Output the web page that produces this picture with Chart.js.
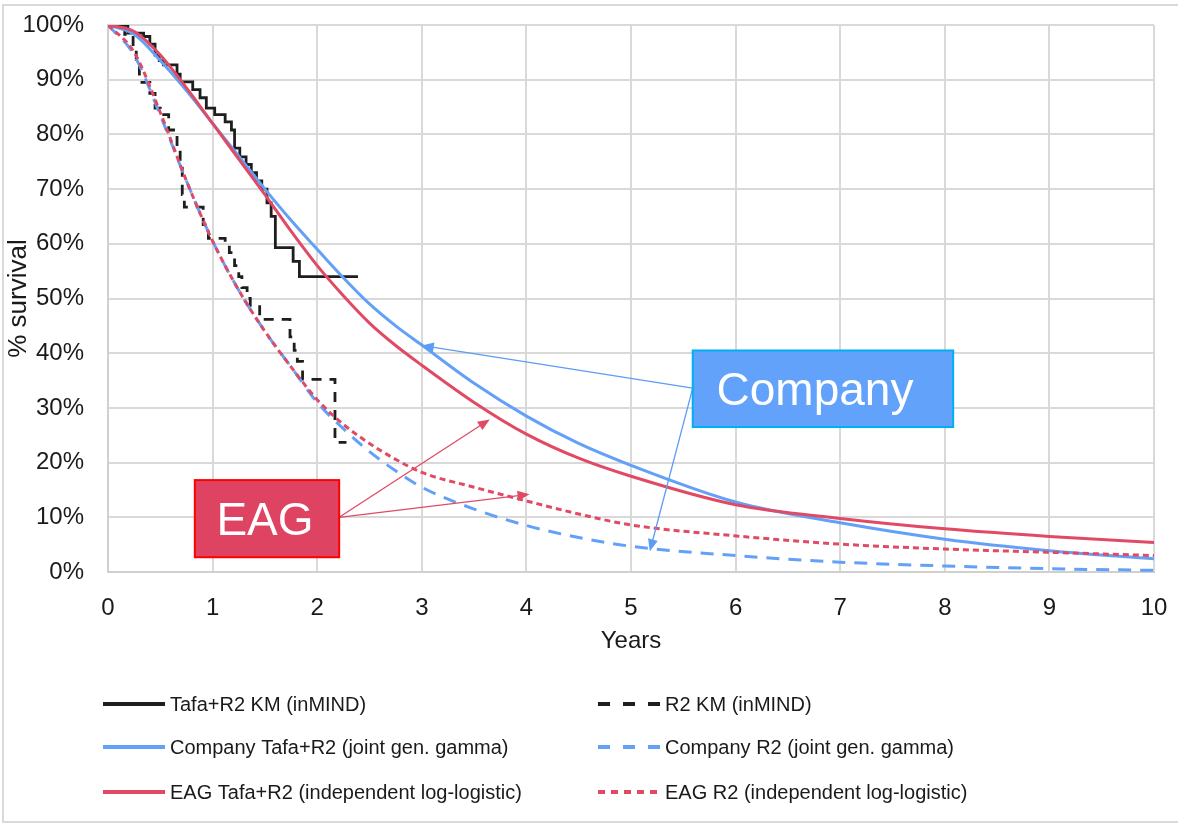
<!DOCTYPE html>
<html>
<head>
<meta charset="utf-8">
<script src="https://cdn.jsdelivr.net/npm/chart.js@4/dist/chart.umd.min.js"></script>
<style>
  html, body { margin: 0; padding: 0; background: #fff; }
</style>
</head>
<body>
<canvas id="survival" width="1178" height="829"></canvas>
<script>
// Kaplan-Meier steps (years, % surviving)
const kmTafaTimes = [0, 0.19, 0.34, 0.40, 0.45, 0.49, 0.53, 0.66, 0.69, 0.81, 0.88, 0.94, 1.02, 1.12, 1.18, 1.21, 1.26, 1.32, 1.37, 1.42, 1.47, 1.52, 1.56, 1.60, 1.77, 1.83, 2.39];
const kmTafaSurv  = [100, 98.5, 97.9, 96.5, 94.5, 93.5, 92.7, 91.0, 89.6, 88.2, 86.7, 84.8, 83.6, 82.3, 80.8, 77.5, 75.9, 74.5, 73.0, 71.5, 70.0, 67.5, 65.0, 59.3, 56.8, 54.0, 54.0];

const kmR2Times = [0, 0.16, 0.24, 0.27, 0.30, 0.40, 0.45, 0.50, 0.58, 0.66, 0.69, 0.71, 0.73, 0.91, 0.96, 1.12, 1.16, 1.21, 1.25, 1.28, 1.33, 1.36, 1.45, 1.74, 1.78, 1.81, 1.86, 2.17, 2.28];
const kmR2Surv  = [100, 98.3, 95.8, 93.0, 89.5, 87.5, 84.8, 83.6, 80.8, 77.7, 74.5, 69.0, 66.7, 63.5, 61.0, 60.0, 58.4, 56.0, 54.0, 52.0, 50.0, 48.5, 46.2, 43.0, 40.5, 38.5, 35.2, 23.7, 23.7];

// Fitted curves, read at fixed years
const years = [0, 0.25, 0.5, 0.75, 1, 1.25, 1.5, 1.75, 2, 2.25, 2.5, 2.75, 3, 3.5, 4, 4.5, 5, 6, 7, 8, 9, 10];
const companyTafa = [100, 98.3, 93.5, 88.0, 82.0, 76.0, 70.0, 64.3, 59.0, 53.8, 49.0, 45.0, 41.5, 34.5, 28.5, 23.5, 19.5, 12.8, 9.0, 6.0, 3.9, 2.4];
const companyR2   = [100, 94.5, 83.5, 71.5, 60.5, 51.5, 44.0, 37.5, 31.0, 26.2, 22.0, 18.5, 15.5, 11.5, 8.5, 6.3, 4.7, 3.0, 1.8, 1.1, 0.6, 0.3];
const eagTafa     = [100, 98.8, 94.5, 88.5, 82.0, 75.5, 69.0, 62.3, 56.0, 50.5, 45.5, 41.4, 37.8, 31.0, 25.2, 20.8, 17.5, 12.3, 9.8, 7.9, 6.5, 5.4];
const eagR2       = [100, 95.0, 84.0, 71.5, 60.5, 51.5, 44.0, 37.5, 31.5, 27.0, 23.5, 20.6, 18.2, 15.5, 13.0, 10.6, 8.6, 6.6, 5.1, 4.2, 3.6, 3.0];

const seriesNames = [
  'Tafa+R2 KM (inMIND)',
  'R2 KM (inMIND)',
  'Company Tafa+R2 (joint gen. gamma)',
  'Company R2 (joint gen. gamma)',
  'EAG Tafa+R2 (independent log-logistic)',
  'EAG R2 (independent log-logistic)'
];

const BLACK = '#1e1e1e';
const BLUE = '#62a1f7';
const RED = '#e04a64';
const FONT = '"Liberation Sans", Arial, sans-serif';

const pts = (xs, ys) => xs.map((x, i) => ({ x: x, y: ys[i] }));

function curve(label, data, color, dash, legendDash, order) {
  return {
    label: label,
    data: data,
    borderColor: color,
    backgroundColor: color,
    borderWidth: 3,
    borderDash: dash,
    legendDash: legendDash,
    pointRadius: 0,
    fill: false,
    cubicInterpolationMode: 'monotone',
    order: order
  };
}

const datasets = [
  Object.assign(curve(seriesNames[0], pts(kmTafaTimes, kmTafaSurv), BLACK, [], [], 6), { stepped: true, borderWidth: 2.8 }),
  Object.assign(curve(seriesNames[1], pts(kmR2Times, kmR2Surv), BLACK, [10, 8], [12, 13], 5), { stepped: true, borderWidth: 2.8 }),
  curve(seriesNames[2], pts(years, companyTafa), BLUE, [], [], 4),
  curve(seriesNames[3], pts(years, companyR2), BLUE, [13, 9], [12, 13], 3),
  curve(seriesNames[4], pts(years, eagTafa), RED, [], [], 2),
  curve(seriesNames[5], pts(years, eagR2), RED, [6, 4], [7, 6], 1)
];

// call-out boxes with arrows, placed in data units
const callouts = [
  { text: 'Company', box: [5.59, 8.08, 40.5, 26.5], fill: '#62a2fa', edge: '#00b0f0', color: '#5c9cf5', shift: -8,
    from: [5.59, 33.6], to: [[3.0, 41.4], [5.18, 3.8]] },
  { text: 'EAG', box: [0.83, 2.21, 16.8, 2.7], fill: '#de4461', edge: '#ff0000', color: '#e04a64', shift: -2,
    from: [2.21, 10.0], to: [[3.65, 27.9], [4.03, 14.2]] }
];

const frame = {
  id: 'frame',
  beforeDraw(chart) {
    const ctx = chart.ctx;
    ctx.save();
    ctx.fillStyle = '#fff';
    ctx.fillRect(0, 0, chart.width, chart.height);
    ctx.strokeStyle = '#d9d9d9';
    ctx.lineWidth = 2;
    ctx.strokeRect(3, 5, 1185, 817);
    ctx.restore();
  }
};

const calloutPlugin = {
  id: 'callouts',
  afterDatasetsDraw(chart) {
    const ctx = chart.ctx;
    const xs = chart.scales.x, ys = chart.scales.y;
    ctx.save();
    callouts.forEach(c => {
      const fx = xs.getPixelForValue(c.from[0]), fy = ys.getPixelForValue(c.from[1]);
      c.to.forEach(t => {
        const tx = xs.getPixelForValue(t[0]), ty = ys.getPixelForValue(t[1]);
        const ang = Math.atan2(ty - fy, tx - fx);
        ctx.strokeStyle = c.color;
        ctx.fillStyle = c.color;
        ctx.lineWidth = 1.3;
        ctx.beginPath();
        ctx.moveTo(fx, fy);
        ctx.lineTo(tx - 9 * Math.cos(ang), ty - 9 * Math.sin(ang));
        ctx.stroke();
        ctx.beginPath();
        ctx.moveTo(tx, ty);
        ctx.lineTo(tx - 12 * Math.cos(ang) + 5 * Math.sin(ang), ty - 12 * Math.sin(ang) - 5 * Math.cos(ang));
        ctx.lineTo(tx - 12 * Math.cos(ang) - 5 * Math.sin(ang), ty - 12 * Math.sin(ang) + 5 * Math.cos(ang));
        ctx.closePath();
        ctx.fill();
      });
      const x0 = xs.getPixelForValue(c.box[0]), x1 = xs.getPixelForValue(c.box[1]);
      const y0 = ys.getPixelForValue(c.box[2]), y1 = ys.getPixelForValue(c.box[3]);
      ctx.fillStyle = c.fill;
      ctx.fillRect(x0, y0, x1 - x0, y1 - y0);
      ctx.strokeStyle = c.edge;
      ctx.lineWidth = 2;
      ctx.strokeRect(x0, y0, x1 - x0, y1 - y0);
      ctx.fillStyle = '#fff';
      ctx.font = '46px ' + FONT;
      ctx.textAlign = 'center';
      ctx.textBaseline = 'alphabetic';
      ctx.fillText(c.text, (x0 + x1) / 2 + c.shift, (y0 + y1) / 2 + 16.5);
    });
    ctx.restore();
  }
};

// legend in two columns under the axis
const legendPlugin = {
  id: 'twoColumnLegend',
  afterDraw(chart) {
    const ctx = chart.ctx;
    const cols = [103, 598];
    const rows = [704, 747, 792];
    ctx.save();
    ctx.font = '20px ' + FONT;
    ctx.textBaseline = 'middle';
    ctx.textAlign = 'left';
    chart.data.datasets.forEach((ds, i) => {
      const x = cols[i % 2], y = rows[Math.floor(i / 2)];
      ctx.beginPath();
      ctx.setLineDash(ds.legendDash);
      ctx.lineWidth = 4;
      ctx.strokeStyle = ds.borderColor;
      ctx.moveTo(x, y);
      ctx.lineTo(x + 62, y);
      ctx.stroke();
      ctx.setLineDash([]);
      ctx.fillStyle = '#1a1a1a';
      ctx.fillText(ds.label, x + 67, y + 1);
    });
    ctx.restore();
  }
};

new Chart(document.getElementById('survival'), {
  type: 'line',
  data: { datasets: datasets },
  plugins: [frame, calloutPlugin, legendPlugin],
  options: {
    responsive: false,
    animation: false,
    layout: { padding: { left: 0, top: 25, right: 24, bottom: 167 } },
    plugins: { legend: { display: false }, tooltip: { enabled: false } },
    scales: {
      x: {
        type: 'linear',
        min: 0,
        max: 10,
        afterFit: s => { s.height = 90; s.paddingLeft = 0; s.paddingRight = 0; },
        ticks: { stepSize: 1, padding: 22, color: '#1a1a1a', font: { family: FONT, size: 24 } },
        grid: { color: '#d9d9d9', lineWidth: 2, drawTicks: false },
        border: { color: '#d0d0d0', width: 2 },
        title: { display: true, text: 'Years', color: '#1a1a1a', font: { family: FONT, size: 24 }, padding: { top: 0, bottom: 6 } }
      },
      y: {
        min: 0,
        max: 100,
        afterFit: s => { s.width = 108; s.paddingTop = 0; s.paddingBottom = 0; },
        ticks: { stepSize: 10, padding: 24, color: '#1a1a1a', font: { family: FONT, size: 24 }, callback: v => v + '%' },
        grid: { color: '#d9d9d9', lineWidth: 2, drawTicks: false },
        border: { color: '#d0d0d0', width: 2 },
        title: { display: true, text: '% survival', color: '#1a1a1a', font: { family: FONT, size: 26 }, padding: { top: 3, bottom: 0 } }
      }
    }
  }
});
</script>
</body>
</html>
